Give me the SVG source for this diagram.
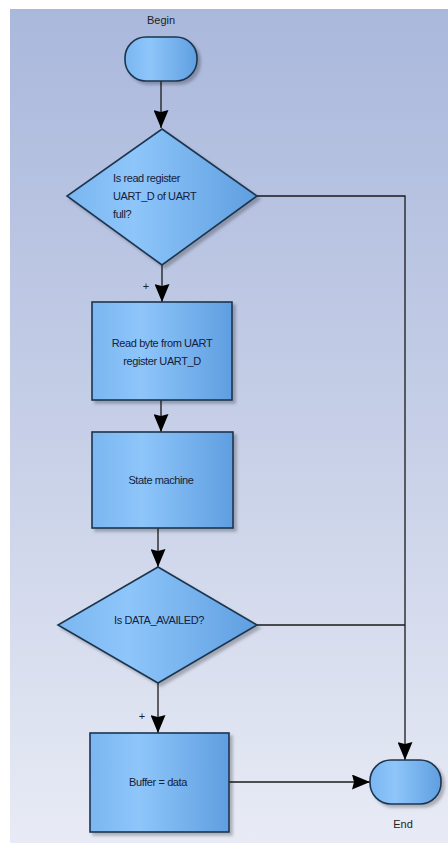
<svg xmlns="http://www.w3.org/2000/svg" width="448" height="843" viewBox="0 0 448 843">
  <defs>
    <linearGradient id="bg" x1="0" y1="0" x2="0" y2="1">
      <stop offset="0" stop-color="#aab8dc"/>
      <stop offset="0.5" stop-color="#c6cfe7"/>
      <stop offset="1" stop-color="#e8ebf5"/>
    </linearGradient>
    <linearGradient id="fill" x1="0" y1="0" x2="1" y2="0">
      <stop offset="0" stop-color="#7ab6f0"/>
      <stop offset="0.35" stop-color="#8ec6fa"/>
      <stop offset="1" stop-color="#5f9ee0"/>
    </linearGradient>
    <!-- solid, blunt arrowhead used by every connector -->
    <marker id="arr" markerWidth="18" markerHeight="15" refX="18" refY="7.5" viewBox="0 0 18 15" orient="auto" markerUnits="userSpaceOnUse">
      <path d="M0,0 L18,7.5 L0,15 L2,7.5 Z" fill="#000"/>
    </marker>
    <filter id="sh" x="-10%" y="-10%" width="130%" height="130%">
      <feDropShadow dx="3" dy="3" stdDeviation="1.5" flood-color="#000" flood-opacity="0.25"/>
    </filter>
  </defs>
  <style>
    .shape { fill: url(#fill); stroke: #1d3550; stroke-width: 1.6; filter: url(#sh); }
    .lbl { font-family: "Liberation Sans", Arial, sans-serif; font-size: 11px; fill: #16203a; letter-spacing: -0.4px; }
    .cap { font-family: "Liberation Sans", Arial, sans-serif; font-size: 11px; fill: #222; }
    .mid { text-anchor: middle; }
    .edge { fill: none; stroke: #1a1a1a; stroke-width: 1.3; }
  </style>

  <rect x="0" y="0" width="448" height="843" fill="#ffffff"/>
  <rect x="10" y="9" width="438" height="834" fill="url(#bg)"/>

  <g id="connectors">
    <path class="edge" d="M161,81 V128" marker-end="url(#arr)"/>
    <path class="edge" d="M162,265 V302" marker-end="url(#arr)"/>
    <path class="edge" d="M161,400 V432" marker-end="url(#arr)"/>
    <path class="edge" d="M158,528 V567" marker-end="url(#arr)"/>
    <path class="edge" d="M158,683 V733" marker-end="url(#arr)"/>
    <path class="edge" d="M229,782 H370" marker-end="url(#arr)"/>
    <path class="edge" d="M257,196 H405 V760" marker-end="url(#arr)"/>
    <path class="edge" d="M257,625 H405"/>
    <text class="cap" x="146" y="290" text-anchor="middle">+</text>
    <text class="cap" x="142" y="720" text-anchor="middle">+</text>
  </g>

  <g id="begin">
    <rect class="shape" x="125" y="37" width="72" height="44" rx="21" ry="21"/>
    <text class="cap mid" x="161" y="24">Begin</text>
  </g>

  <g id="check-register">
    <polygon class="shape" points="162,129 257,196 162,265 67,196"/>
    <text class="lbl" x="113" y="182">Is read register</text>
    <text class="lbl" x="113" y="200">UART_D of UART</text>
    <text class="lbl" x="113" y="218">full?</text>
  </g>

  <g id="read-byte">
    <rect class="shape" x="92" y="302" width="140" height="98"/>
    <text class="lbl mid" x="162" y="347">Read byte from UART</text>
    <text class="lbl mid" x="162" y="365">register UART_D</text>
  </g>

  <g id="state-machine">
    <rect class="shape" x="92" y="432" width="141" height="96"/>
    <text class="lbl mid" x="161" y="484">State machine</text>
  </g>

  <g id="check-data">
    <polygon class="shape" points="158,567 257,625 158,683 58,625"/>
    <text class="lbl mid" x="159" y="624">Is DATA_AVAILED?</text>
  </g>

  <g id="buffer">
    <rect class="shape" x="90" y="733" width="139" height="99"/>
    <text class="lbl mid" x="158" y="786">Buffer = data</text>
  </g>

  <g id="end">
    <rect class="shape" x="370" y="760" width="71" height="44" rx="21" ry="21"/>
    <text class="cap mid" x="403" y="828">End</text>
  </g>
</svg>
